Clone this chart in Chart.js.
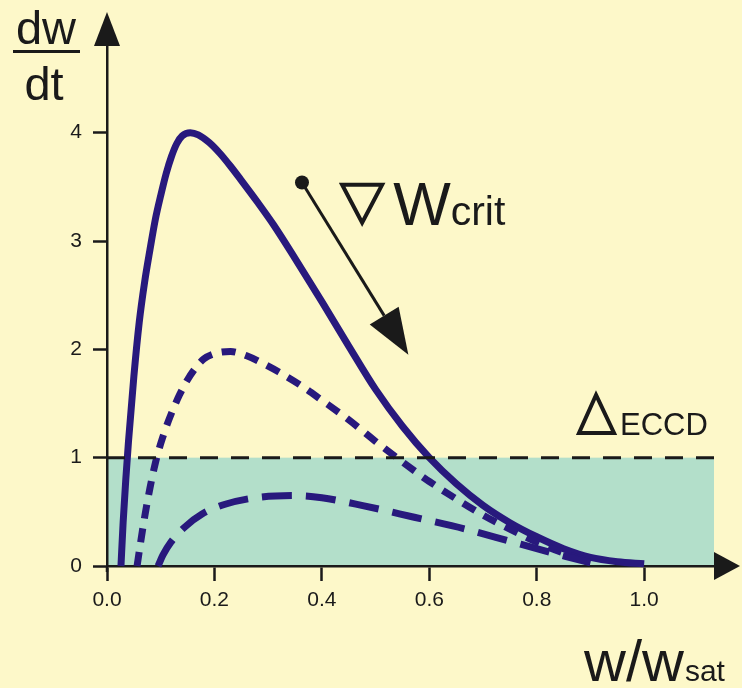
<!DOCTYPE html>
<html>
<head>
<meta charset="utf-8">
<script src="https://cdn.jsdelivr.net/npm/chart.js@4.4.0/dist/chart.umd.min.js"></script>
<style>
  html, body { margin: 0; padding: 0; background: #fdf8c9; }
</style>
</head>
<body>
<canvas id="growthChart" width="742" height="688"></canvas>
<script>
// tick labels
const xTicks = [0, 0.2, 0.4, 0.6, 0.8, 1.0];
const yTicks = [0, 1, 2, 3, 4];
const xMax = 1.13;
const yMax = 4.8;

// solid curve (largest grad W_crit)
const solidX = [0.026, 0.03, 0.035, 0.04, 0.05, 0.06, 0.07, 0.08, 0.09, 0.10, 0.11, 0.12, 0.13, 0.14, 0.155, 0.17, 0.19, 0.21, 0.23, 0.25, 0.28, 0.31, 0.35, 0.40, 0.45, 0.50, 0.55, 0.60, 0.65, 0.70, 0.75, 0.80, 0.85, 0.90, 0.95, 1.0];
const solidY = [0, 0.4, 0.8, 1.15, 1.75, 2.25, 2.62, 2.92, 3.2, 3.42, 3.62, 3.78, 3.9, 3.97, 4.0, 3.98, 3.91, 3.81, 3.69, 3.56, 3.36, 3.15, 2.84, 2.44, 2.03, 1.63, 1.29, 1.0, 0.76, 0.56, 0.4, 0.27, 0.16, 0.08, 0.04, 0.02];

// short dashed curve
const shortX = [0.056, 0.062, 0.07, 0.08, 0.09, 0.10, 0.11, 0.12, 0.135, 0.15, 0.165, 0.18, 0.20, 0.23, 0.26, 0.29, 0.32, 0.36, 0.40, 0.45, 0.50, 0.55, 0.60, 0.65, 0.70, 0.75, 0.80, 0.85, 0.90];
const shortY = [0, 0.2, 0.45, 0.72, 0.95, 1.13, 1.28, 1.41, 1.58, 1.72, 1.83, 1.91, 1.96, 1.98, 1.94, 1.87, 1.79, 1.67, 1.53, 1.35, 1.15, 0.96, 0.78, 0.62, 0.47, 0.34, 0.22, 0.12, 0.04];

// long dashed curve
const longX = [0.095, 0.104, 0.119, 0.145, 0.177, 0.22, 0.276, 0.35, 0.40, 0.474, 0.572, 0.668, 0.756, 0.853, 0.9];
const longY = [0, 0.1, 0.22, 0.36, 0.48, 0.57, 0.63, 0.65, 0.63, 0.56, 0.45, 0.34, 0.22, 0.09, 0.03];

// ECCD level
const eccdLevel = 1;

const ink = "#1a1a1a";
const curveColor = "#28197d";
const bgColor = "#fdf8c9";
const boxColor = "#b3dfca";
const fontFamily = '"Liberation Sans", Arial, sans-serif';

function pts(xs, ys) {
  return xs.map((x, i) => ({ x: x, y: ys[i] }));
}

const decor = {
  id: "decor",
  beforeDraw(chart) {
    const { ctx, scales: { x, y } } = chart;
    ctx.save();
    ctx.fillStyle = bgColor;
    ctx.fillRect(0, 0, chart.width, chart.height);
    // ECCD box
    ctx.fillStyle = boxColor;
    const x0 = x.getPixelForValue(0), x1 = x.getPixelForValue(xMax);
    const y0 = y.getPixelForValue(0), y1 = y.getPixelForValue(eccdLevel);
    ctx.fillRect(x0, y1, x1 - x0, y0 - y1);
    ctx.restore();
  },
  afterDraw(chart) {
    const { ctx, chartArea: a, scales: { x, y } } = chart;
    ctx.save();
    ctx.fillStyle = ink;
    ctx.strokeStyle = ink;

    // axis arrowheads
    ctx.beginPath();
    ctx.moveTo(a.left, a.top - 34);
    ctx.lineTo(a.left - 13, a.top);
    ctx.lineTo(a.left + 13, a.top);
    ctx.closePath();
    ctx.fill();
    ctx.beginPath();
    ctx.moveTo(a.right + 26, a.bottom);
    ctx.lineTo(a.right, a.bottom - 14);
    ctx.lineTo(a.right, a.bottom + 14);
    ctx.closePath();
    ctx.fill();
    // small overshoot of the y axis below the origin
    ctx.fillRect(a.left - 1.25, a.bottom, 2.5, 6);

    // y title dw/dt
    ctx.textAlign = "center";
    ctx.textBaseline = "alphabetic";
    ctx.font = "47px " + fontFamily;
    ctx.fillText("dw", 46, 44);
    ctx.fillRect(13, 50, 67, 3);
    ctx.fillText("dt", 44, 100);

    // x title w/w_sat
    ctx.textAlign = "left";
    ctx.font = "58px " + fontFamily;
    ctx.fillText("w/w", 584, 681);
    const ww = ctx.measureText("w/w").width;
    ctx.font = "30px " + fontFamily;
    ctx.fillText("sat", 584 + ww + 1, 681);

    // grad W_crit arrow
    const sx = x.getPixelForValue(0.363), sy = y.getPixelForValue(3.54);
    const tx = x.getPixelForValue(0.561), ty = y.getPixelForValue(1.95);
    ctx.beginPath();
    ctx.arc(sx, sy, 7, 0, Math.PI * 2);
    ctx.fill();
    const ang = Math.atan2(ty - sy, tx - sx);
    const headL = 46, headW = 17;
    const bx = tx - headL * Math.cos(ang), by = ty - headL * Math.sin(ang);
    ctx.lineWidth = 3;
    ctx.beginPath();
    ctx.moveTo(sx, sy);
    ctx.lineTo(bx, by);
    ctx.stroke();
    ctx.beginPath();
    ctx.moveTo(tx, ty);
    ctx.lineTo(bx + headW * Math.sin(ang), by - headW * Math.cos(ang));
    ctx.lineTo(bx - headW * Math.sin(ang), by + headW * Math.cos(ang));
    ctx.closePath();
    ctx.fill();

    // nabla + W_crit label
    const nx = x.getPixelForValue(0.434), ny = y.getPixelForValue(3.15);
    ctx.lineWidth = 4;
    ctx.lineJoin = "miter";
    ctx.beginPath();
    ctx.moveTo(nx + 2, ny - 40);
    ctx.lineTo(nx + 42, ny - 40);
    ctx.lineTo(nx + 22, ny - 2);
    ctx.closePath();
    ctx.stroke();
    ctx.font = "61px " + fontFamily;
    ctx.fillText("W", nx + 53, ny);
    const wW = ctx.measureText("W").width;
    ctx.font = "41px " + fontFamily;
    ctx.fillText("crit", nx + 53 + wW, ny);

    // delta ECCD label
    const dx = x.getPixelForValue(0.875), dy = y.getPixelForValue(1.21);
    ctx.beginPath();
    ctx.moveTo(dx + 19, dy - 40);
    ctx.lineTo(dx + 37, dy - 2);
    ctx.lineTo(dx + 2, dy - 2);
    ctx.closePath();
    ctx.stroke();
    ctx.font = "31px " + fontFamily;
    ctx.fillText("ECCD", dx + 43, dy);
    ctx.restore();
  }
};

const tickFont = { family: fontFamily, size: 21 };

new Chart(document.getElementById("growthChart"), {
  type: "line",
  data: {
    datasets: [
      {
        label: "ECCD",
        data: [{ x: 0, y: eccdLevel }, { x: xMax, y: eccdLevel }],
        borderColor: ink,
        borderWidth: 3,
        borderDash: [18, 13]
      },
      {
        label: "long dash",
        data: pts(longX, longY),
        borderColor: curveColor,
        borderWidth: 7,
        borderDash: [30, 14],
        cubicInterpolationMode: "monotone"
      },
      {
        label: "short dash",
        data: pts(shortX, shortY),
        borderColor: curveColor,
        borderWidth: 7,
        borderDash: [14, 10],
        cubicInterpolationMode: "monotone"
      },
      {
        label: "solid",
        data: pts(solidX, solidY),
        borderColor: curveColor,
        borderWidth: 7,
        cubicInterpolationMode: "monotone"
      }
    ]
  },
  options: {
    responsive: false,
    animation: false,
    clip: false,
    elements: { point: { radius: 0, hoverRadius: 0 } },
    layout: { padding: { left: 0, right: 28, top: 46, bottom: 0 } },
    plugins: {
      legend: { display: false },
      tooltip: { enabled: false }
    },
    events: [],
    scales: {
      x: {
        type: "linear",
        min: 0,
        max: xMax,
        afterBuildTicks: (s) => { s.ticks = xTicks.map(v => ({ value: v })); },
        afterFit: (s) => { s.height = 122; },
        ticks: {
          callback: (v) => v.toFixed(1),
          font: tickFont,
          color: ink,
          padding: 7,
          autoSkip: false,
          maxRotation: 0
        },
        grid: { drawOnChartArea: false, tickLength: 15, tickColor: ink, tickWidth: 2.5 },
        border: { color: ink, width: 2.5 }
      },
      y: {
        type: "linear",
        min: 0,
        max: yMax,
        afterBuildTicks: (s) => { s.ticks = yTicks.map(v => ({ value: v })); },
        afterFit: (s) => { s.width = 107; },
        ticks: {
          callback: (v) => String(v),
          font: tickFont,
          color: ink,
          padding: 11,
          autoSkip: false
        },
        grid: { drawOnChartArea: false, tickLength: 14, tickColor: ink, tickWidth: 2.5 },
        border: { color: ink, width: 2.5 }
      }
    }
  },
  plugins: [decor]
});
</script>
</body>
</html>
